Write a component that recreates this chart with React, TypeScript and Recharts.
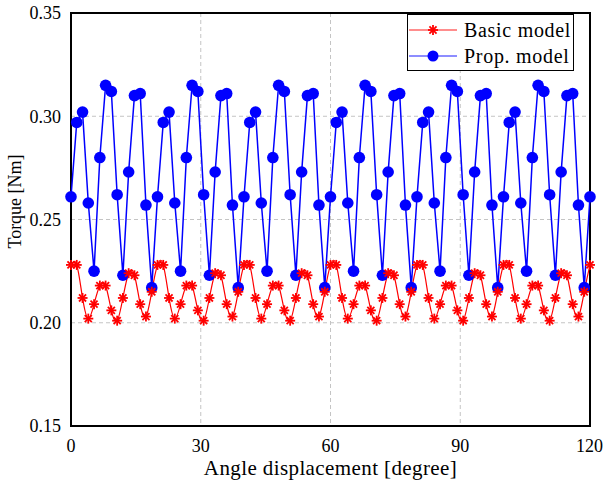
import React from "react"
import {
  CartesianGrid,
  Legend,
  Line,
  LineChart,
  ReferenceArea,
  XAxis,
  YAxis,
} from "recharts"

document.body.style.margin = "0"

const FONT = "'Liberation Serif', 'Times New Roman', serif"

// rotor angle, degrees (step 4/3)
const angles = [
  0, 1.33, 2.67, 4, 5.33, 6.67, 8, 9.33, 10.67, 12, 13.33, 14.67, 16, 17.33, 18.67,
  20, 21.33, 22.67, 24, 25.33, 26.67, 28, 29.33, 30.67, 32, 33.33, 34.67, 36, 37.33, 38.67,
  40, 41.33, 42.67, 44, 45.33, 46.67, 48, 49.33, 50.67, 52, 53.33, 54.67, 56, 57.33, 58.67,
  60, 61.33, 62.67, 64, 65.33, 66.67, 68, 69.33, 70.67, 72, 73.33, 74.67, 76, 77.33, 78.67,
  80, 81.33, 82.67, 84, 85.33, 86.67, 88, 89.33, 90.67, 92, 93.33, 94.67, 96, 97.33, 98.67,
  100, 101.33, 102.67, 104, 105.33, 106.67, 108, 109.33, 110.67, 112, 113.33, 114.67, 116, 117.33, 118.67,
  120,
]

// torque, Nm
const basicModel = [
  0.228, 0.228, 0.212, 0.202, 0.209, 0.218, 0.218, 0.206, 0.201, 0.212, 0.224, 0.223, 0.209, 0.203, 0.215,
  0.228, 0.228, 0.212, 0.202, 0.209, 0.218, 0.218, 0.206, 0.201, 0.212, 0.224, 0.223, 0.209, 0.203, 0.215,
  0.228, 0.228, 0.212, 0.202, 0.209, 0.218, 0.218, 0.206, 0.201, 0.212, 0.224, 0.223, 0.209, 0.203, 0.215,
  0.228, 0.228, 0.212, 0.202, 0.209, 0.218, 0.218, 0.206, 0.201, 0.212, 0.224, 0.223, 0.209, 0.203, 0.215,
  0.228, 0.228, 0.212, 0.202, 0.209, 0.218, 0.218, 0.206, 0.201, 0.212, 0.224, 0.223, 0.209, 0.203, 0.215,
  0.228, 0.228, 0.212, 0.202, 0.209, 0.218, 0.218, 0.206, 0.201, 0.212, 0.224, 0.223, 0.209, 0.203, 0.215,
  0.228,
]

const propModel = [
  0.261, 0.297, 0.302, 0.258, 0.225, 0.280, 0.315, 0.312, 0.262, 0.223, 0.273, 0.310, 0.311, 0.257, 0.217,
  0.261, 0.297, 0.302, 0.258, 0.225, 0.280, 0.315, 0.312, 0.262, 0.223, 0.273, 0.310, 0.311, 0.257, 0.217,
  0.261, 0.297, 0.302, 0.258, 0.225, 0.280, 0.315, 0.312, 0.262, 0.223, 0.273, 0.310, 0.311, 0.257, 0.217,
  0.261, 0.297, 0.302, 0.258, 0.225, 0.280, 0.315, 0.312, 0.262, 0.223, 0.273, 0.310, 0.311, 0.257, 0.217,
  0.261, 0.297, 0.302, 0.258, 0.225, 0.280, 0.315, 0.312, 0.262, 0.223, 0.273, 0.310, 0.311, 0.257, 0.217,
  0.261, 0.297, 0.302, 0.258, 0.225, 0.280, 0.315, 0.312, 0.262, 0.223, 0.273, 0.310, 0.311, 0.257, 0.217,
  0.261,
]

const xTicks = [0, 30, 60, 90, 120]
const yTicks = [0.15, 0.2, 0.25, 0.3, 0.35]

const data = angles.map((angle, i) => ({
  angle,
  basic: basicModel[i],
  prop: propModel[i],
}))

function Asterisk({ cx, cy, r = 5 }: { cx: number; cy: number; r?: number }) {
  const d = r * 0.707
  return (
    <g stroke="#ff0000" strokeWidth={1.8}>
      <line x1={cx - r} y1={cy} x2={cx + r} y2={cy} />
      <line x1={cx} y1={cy - r} x2={cx} y2={cy + r} />
      <line x1={cx - d} y1={cy - d} x2={cx + d} y2={cy + d} />
      <line x1={cx - d} y1={cy + d} x2={cx + d} y2={cy - d} />
    </g>
  )
}

function LegendBox() {
  const rows = [
    { name: "Basic model", color: "#ff0000", marker: "star" },
    { name: "Prop. model", color: "#0000ff", marker: "circle" },
  ]
  return (
    <div
      style={{
        width: 167,
        height: 57,
        boxSizing: "border-box",
        border: "1px solid #000",
        background: "#fff",
        fontFamily: FONT,
        fontSize: 20,
        letterSpacing: 0.7,
        color: "#000",
        paddingTop: 2,
      }}
    >
      {rows.map((r) => (
        <div key={r.name} style={{ display: "flex", alignItems: "center", height: 26 }}>
          <svg width={52} height={16} style={{ marginLeft: 1 }}>
            <line x1={0} y1={8} x2={48} y2={8} stroke={r.color} strokeOpacity={0.6} strokeWidth={1.5} />
            {r.marker === "star" ? (
              <Asterisk cx={24} cy={8} />
            ) : (
              <circle cx={24} cy={8} r={5.5} fill={r.color} />
            )}
          </svg>
          <span style={{ marginLeft: 3, whiteSpace: "nowrap" }}>{r.name}</span>
        </div>
      ))}
    </div>
  )
}

export default function App() {
  const tick = { fill: "#000", fontSize: 18, fontFamily: FONT }
  return (
    <LineChart
      width={603}
      height={480}
      data={data}
      margin={{ top: 13, right: 13, bottom: 0, left: 0 }}
    >
      <CartesianGrid stroke="#c4c4c4" strokeDasharray="4 3" />
      <XAxis
        dataKey="angle"
        type="number"
        domain={[0, 120]}
        ticks={xTicks}
        height={54}
        tickLine={false}
        axisLine={false}
        tick={tick}
        tickMargin={7}
        label={{
          value: "Angle displacement [degree]",
          position: "insideBottom",
          offset: 5,
          style: { fill: "#000", fontSize: 21, letterSpacing: 0.4, fontFamily: FONT },
        }}
      />
      <YAxis
        type="number"
        domain={[0.15, 0.35]}
        ticks={yTicks}
        width={71}
        tickLine={false}
        axisLine={false}
        tick={tick}
        tickMargin={4}
        tickFormatter={(v: number) => v.toFixed(2)}
        label={{
          value: "Torque [Nm]",
          angle: -90,
          position: "insideLeft",
          offset: 15,
          dy: -18,
          style: { fill: "#000", fontSize: 18, fontFamily: FONT, textAnchor: "middle" },
        }}
      />
      <ReferenceArea
        x1={0}
        x2={120}
        y1={0.15}
        y2={0.35}
        fill="none"
        stroke="#000"
        strokeWidth={2}
      />
      <Line
        dataKey="prop"
        name="Prop. model"
        type="linear"
        stroke="#0000ff"
        strokeWidth={1.5}
        dot={(p: any) => (
          <circle key={`p-${p.index}`} cx={p.cx} cy={p.cy} r={5.8} fill="#0000ff" />
        )}
        activeDot={false}
        isAnimationActive={false}
      />
      <Line
        dataKey="basic"
        name="Basic model"
        type="natural"
        stroke="#ff0000"
        strokeWidth={1.2}
        dot={(p: any) => <Asterisk key={`b-${p.index}`} cx={p.cx} cy={p.cy} />}
        activeDot={false}
        isAnimationActive={false}
      />
      <Legend
        layout="vertical"
        align="center"
        verticalAlign="middle"
        content={() => <LegendBox />}
        wrapperStyle={{ top: 14, left: 407, width: 167, height: 57 }}
      />
    </LineChart>
  )
}
